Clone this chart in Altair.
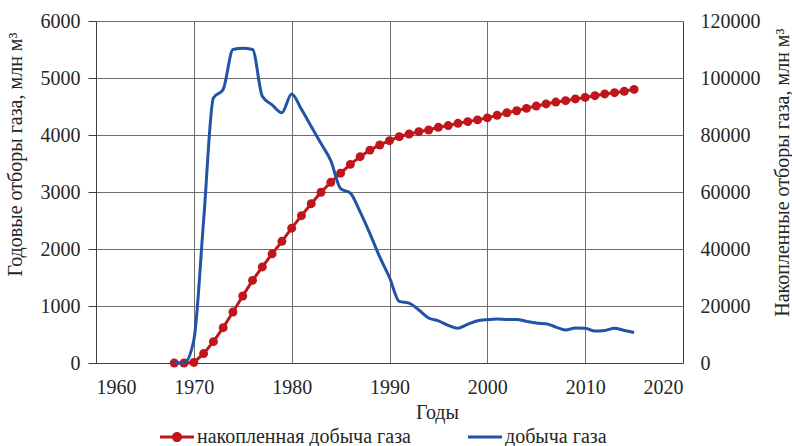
import altair as alt
import pandas as pd

years = list(range(1968, 2016))
annual = [0, 0, 400, 2500, 4650, 4800, 5500, 5520, 5500, 4680,
          4530, 4390, 4720, 4450, 4150, 3850, 3550, 3060, 2980, 2650,
          2270, 1860, 1500, 1080, 1050, 930, 790, 740, 660, 610,
          680, 740, 760, 770, 765, 765, 730, 700, 690, 630,
          580, 615, 610, 560, 570, 610, 570, 535]
cumulative = [0, 0, 200, 3300, 7500, 12400, 17900, 23500, 29000, 33700,
              38300, 42700, 47300, 51700, 55900, 59900, 63400, 66600, 69700, 72400,
              74700, 76500, 78000, 79400, 80350, 81160, 81750, 82700, 83300, 84100,
              84700, 85300, 86000, 86900, 87800, 88500, 89350, 90150, 90900, 91550,
              92050, 92650, 93200, 93800, 94400, 94850, 95350, 96000]
x_ticks = [1960, 1970, 1980, 1990, 2000, 2010, 2020]
left_ticks = [0, 1000, 2000, 3000, 4000, 5000, 6000]
right_ticks = [0, 20000, 40000, 60000, 80000, 100000, 120000]
series_names = ["накопленная добыча газа", "добыча газа"]

RED = "#C0161B"
BLUE = "#2153A6"
FONT = "Liberation Serif"
TXT = "#262626"
GRID = "#6e6e6e"
FS = 20

df = pd.DataFrame({"year": years, "annual": annual, "cum": cumulative,
                   "series": series_names[0]})

x_enc = alt.X("year:Q",
              scale=alt.Scale(domain=[1960, 2020], nice=False, zero=False),
              axis=alt.Axis(values=x_ticks, format="d", title="Годы", grid=True,
                            ticks=False, tickSize=0, labelPadding=14,
                            titleX=341, titleY=49, titleAlign="center",
                            titleBaseline="middle"))

y_left = alt.Y("annual:Q",
               scale=alt.Scale(domain=[0, 6000], nice=False),
               axis=alt.Axis(orient="left", values=left_ticks, format="d", grid=True,
                             tickSize=8, labelPadding=8,
                             title="Годовые отборы газа, млн м³",
                             titleAngle=270, titleX=-81, titleY=11,
                             titleAlign="right", titleBaseline="middle"))

y_right = alt.Y("cum:Q",
                scale=alt.Scale(domain=[0, 120000], nice=False),
                axis=alt.Axis(orient="right", values=right_ticks, format="d", grid=False,
                              ticks=False, tickSize=0, labelPadding=17,
                              title="Накопленные отборы газа, млн м³",
                              titleAngle=270, titleX=99, titleY=7,
                              titleAlign="right", titleBaseline="middle"))

red_path = "M-1,-0.09H1V0.09H-1Z M-0.3,0A0.3,0.3 0 1,1 0.3,0A0.3,0.3 0 1,1 -0.3,0Z"
blue_path = "M-1,-0.09H1V0.09H-1Z"

leg = alt.Legend(orient="none", legendX=64, legendY=399, direction="horizontal",
                 title=None, symbolSize=1156, symbolOpacity=1, symbolStrokeWidth=0,
                 labelFont=FONT, labelFontSize=FS, labelColor=TXT, labelOffset=3,
                 labelLimit=0, columnPadding=57, padding=0)

base = alt.Chart(df)

blue_line = base.mark_line(color=BLUE, strokeWidth=3, interpolate="monotone").encode(
    x=x_enc, y=y_left)
red_line = base.mark_line(color=RED, strokeWidth=3).encode(x=x_enc, y=y_right)
red_pts = base.mark_point(filled=True, color=RED, size=80, opacity=1).encode(
    x=x_enc, y=y_right)
legend_layer = base.mark_point(filled=True, opacity=0).encode(
    x=x_enc, y=y_right,
    color=alt.Color("series:N", scale=alt.Scale(domain=series_names, range=[RED, BLUE]),
                    legend=leg),
    shape=alt.Shape("series:N", scale=alt.Scale(domain=series_names,
                                                range=[red_path, blue_path]),
                    legend=leg))

right = alt.layer(red_line, red_pts, legend_layer)

chart = alt.layer(right, blue_line).resolve_scale(y="independent").properties(
    width=587, height=342,
    autosize=alt.AutoSizeParams(type="none"),
    padding={"left": 96, "top": 21, "right": 109, "bottom": 83},
    background="white",
).configure_view(stroke=None).configure_axis(
    labelFont=FONT, labelFontSize=FS, labelColor=TXT,
    titleFont=FONT, titleFontSize=FS, titleColor=TXT, titleFontWeight="normal",
    domainColor="#404040", domainWidth=1, tickColor="#404040",
    gridColor=GRID, gridWidth=1, gridOpacity=1,
)

chart.save("out.html", embed_options={"renderer": "svg", "actions": False})
